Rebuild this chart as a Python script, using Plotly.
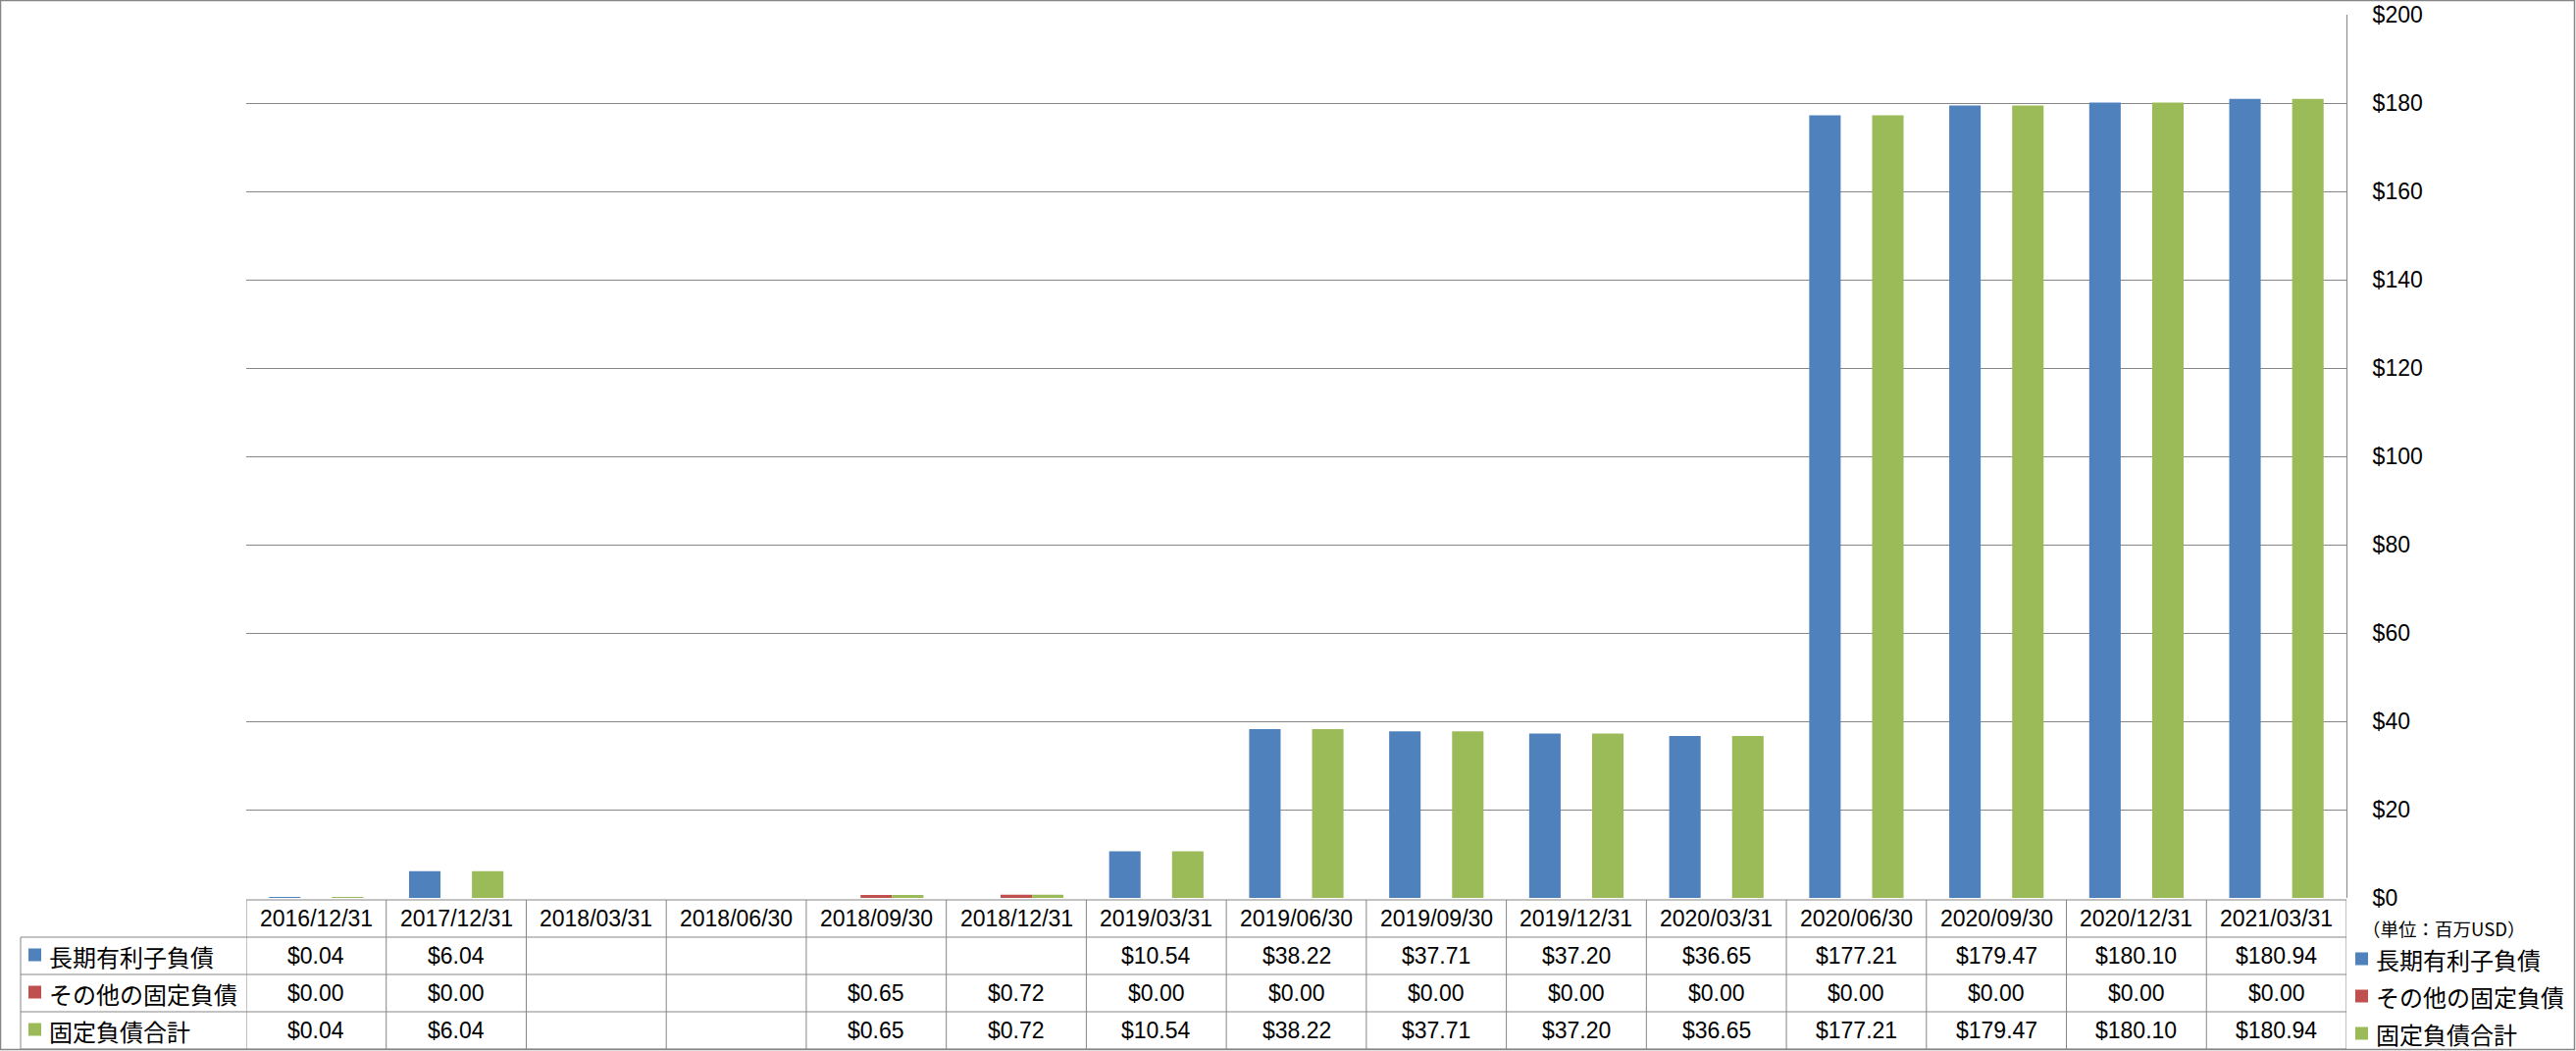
import plotly.graph_objects as go

# ---------------- data ----------------
categories = ["2016/12/31", "2017/12/31", "2018/03/31", "2018/06/30", "2018/09/30",
              "2018/12/31", "2019/03/31", "2019/06/30", "2019/09/30", "2019/12/31",
              "2020/03/31", "2020/06/30", "2020/09/30", "2020/12/31", "2021/03/31"]
long_term_debt = [0.04, 6.04, None, None, None, None, 10.54, 38.22, 37.71, 37.20,
                  36.65, 177.21, 179.47, 180.10, 180.94]
other_fixed = [0.00, 0.00, None, None, 0.65, 0.72, 0.00, 0.00, 0.00, 0.00,
               0.00, 0.00, 0.00, 0.00, 0.00]
total_fixed = [0.04, 6.04, None, None, 0.65, 0.72, 10.54, 38.22, 37.71, 37.20,
               36.65, 177.21, 179.47, 180.10, 180.94]
series_names = ["長期有利子負債", "その他の固定負債", "固定負債合計"]
series_colors = ["#4F81BD", "#C0504D", "#9BBB59"]
y_ticks = [0, 20, 40, 60, 80, 100, 120, 140, 160, 180, 200]
unit_label = "（単位：百万USD）"

# ---------------- layout geometry (pixels) ----------------
W, H = 2626, 1071
L, R, T, B = 251, 2392, 15, 915
GRID = "#868686"
LATIN = "Liberation Sans, Arial, Noto Sans CJK JP, sans-serif"
CJK = "Noto Sans CJK JP, Liberation Sans, sans-serif"
FS = 23


def fx(p):
    return (p - L) / (R - L)


def fy(p):
    return (B - p) / (B - T)


series = [long_term_debt, other_fixed, total_fixed]

fig = go.Figure()
for name, vals, col in zip(series_names, series, series_colors):
    fig.add_trace(go.Bar(x=categories, y=vals, name=name, marker_color=col,
                         marker_line_width=0, showlegend=False))

shapes = []
annotations = []

# table row boundaries (pixels)
rows_px = [917, 955, 993, 1031, 1069]
n = len(categories)

# horizontal table lines
shapes.append(dict(type="line", xref="x", yref="paper", x0=-0.5, x1=n - 0.5,
                   y0=fy(rows_px[0]), y1=fy(rows_px[0]), line=dict(color=GRID, width=1)))
for p in rows_px[1:]:
    shapes.append(dict(type="line", xref="paper", yref="paper", x0=fx(21), x1=fx(R),
                       y0=fy(p), y1=fy(p), line=dict(color=GRID, width=1)))
# vertical table lines at category boundaries
for i in range(n + 1):
    shapes.append(dict(type="line", xref="x", yref="paper", x0=i - 0.5, x1=i - 0.5,
                       y0=fy(rows_px[0]), y1=fy(rows_px[-1]), line=dict(color=GRID, width=1)))
# left border of label column
shapes.append(dict(type="line", xref="paper", yref="paper", x0=fx(21), x1=fx(21),
                   y0=fy(rows_px[1]), y1=fy(rows_px[-1]), line=dict(color=GRID, width=1)))
# outer chart border
shapes.append(dict(type="rect", xref="paper", yref="paper", x0=fx(0.5), x1=fx(W - 1.5),
                   y0=fy(H - 1.5), y1=fy(0.5), line=dict(color=GRID, width=1.5),
                   fillcolor="rgba(0,0,0,0)", layer="above"))

# header row: category labels
hdr_c = (rows_px[0] + rows_px[1]) / 2
for c in categories:
    annotations.append(dict(x=c, y=fy(hdr_c), xref="x", yref="paper", text=c,
                            showarrow=False, xanchor="center", yanchor="middle",
                            font=dict(family=LATIN, size=FS, color="#000")))

# data rows
for r, (name, vals, col) in enumerate(zip(series_names, series, series_colors)):
    yc = (rows_px[r + 1] + rows_px[r + 2]) / 2
    for c, v in zip(categories, vals):
        if v is None:
            continue
        annotations.append(dict(x=c, y=fy(yc), xref="x", yref="paper", text=f"${v:.2f}",
                                showarrow=False, xanchor="center", yanchor="middle",
                                font=dict(family=LATIN, size=FS, color="#000")))
    # left label column: colored square + name
    shapes.append(dict(type="rect", xref="paper", yref="paper", x0=fx(29), x1=fx(42),
                       y0=fy(yc + 5.5), y1=fy(yc - 7.5), fillcolor=col, line=dict(width=0)))
    annotations.append(dict(x=fx(48), y=fy(yc), xref="paper", yref="paper", text=name,
                            showarrow=False, xanchor="left", yanchor="middle",
                            font=dict(family=CJK, size=24, color="#000")))
    # right legend
    ly = yc + 3
    shapes.append(dict(type="rect", xref="paper", yref="paper", x0=fx(2401), x1=fx(2414),
                       y0=fy(ly + 6.5), y1=fy(ly - 6.5), fillcolor=col, line=dict(width=0)))
    annotations.append(dict(x=fx(2420), y=fy(ly), xref="paper", yref="paper", text=name,
                            showarrow=False, xanchor="left", yanchor="middle",
                            font=dict(family=CJK, size=24, color="#000")))

# unit label
annotations.append(dict(x=fx(2406), y=fy(946), xref="paper", yref="paper", text=unit_label,
                        showarrow=False, xanchor="left", yanchor="middle",
                        font=dict(family=CJK, size=18.5, color="#000")))

fig.update_layout(
    width=W, height=H,
    margin=dict(l=L, r=W - R, t=T, b=H - B, pad=0, autoexpand=False),
    paper_bgcolor="white", plot_bgcolor="white",
    barmode="group", bargap=0.326, bargroupgap=0,
    shapes=shapes, annotations=annotations,
    showlegend=False,
    xaxis=dict(type="category", categoryorder="array", categoryarray=categories,
               showticklabels=False, showgrid=False, zeroline=False, automargin=False,
               showline=False, ticks="", range=[-0.5, n - 0.5], fixedrange=True),
    yaxis=dict(side="right", range=[0, 200], tickvals=y_ticks, automargin=False,
               ticktext=[f"${v}" for v in y_ticks], showgrid=True, gridcolor=GRID,
               gridwidth=1, zeroline=False, showline=True, linecolor=GRID, linewidth=1,
               ticks="", ticklabelstandoff=21,
               tickfont=dict(family=LATIN, size=FS, color="#000")),
)

fig.write_html("out.html")
